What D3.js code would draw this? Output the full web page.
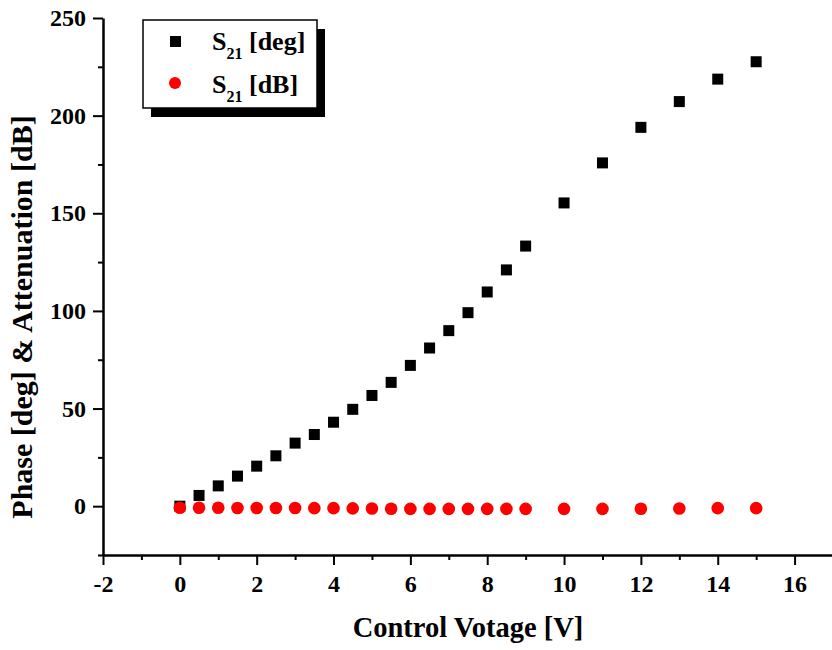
<!DOCTYPE html>
<html>
<head>
<meta charset="utf-8">
<script src="https://cdn.jsdelivr.net/npm/d3@7"></script>
<style>
  body { margin: 0; background: #fff; }
  svg { display: block; }
  svg text { font-family: "Liberation Serif", "Times New Roman", serif; font-weight: bold; fill: #000; }
</style>
</head>
<body>
<svg width="832" height="650"></svg>
<script>
const voltage = [0, 0.5, 1, 1.5, 2, 2.5, 3, 3.5, 4, 4.5, 5, 5.5, 6, 6.5, 7, 7.5, 8, 8.5, 9, 10, 11, 12, 13, 14, 15];
const phaseDeg = [0, 5.5, 10.4, 15.4, 20.5, 25.8, 32.3, 36.7, 43, 49.6, 56.7, 63.4, 72.1, 81, 89.9, 99.1, 109.7, 121, 133.2, 155.3, 175.8, 194, 207.2, 218.7, 227.6];
const attenDb = [-0.8, -0.8, -0.8, -0.9, -0.9, -0.9, -0.9, -1.0, -1.0, -1.1, -1.2, -1.3, -1.4, -1.4, -1.4, -1.4, -1.4, -1.4, -1.4, -1.4, -1.4, -1.3, -1.2, -1.0, -1.0];
const xMajor = [-2, 0, 2, 4, 6, 8, 10, 12, 14, 16];
const xMinor = [-1, 1, 3, 5, 7, 9, 11, 13, 15];
const yMajor = [0, 50, 100, 150, 200, 250];
const yMinor = [-25, 25, 75, 125, 175, 225];
const legendLabels = [["S", "21", " [deg]"], ["S", "21", " [dB]"]];

const svg = d3.select("svg");
const x = d3.scaleLinear().domain([-2, 17]).range([103, 833]);
const y = d3.scaleLinear().domain([-25, 250]).range([555, 18]);

// minor ticks first, no labels
svg.append("g")
  .attr("transform", "translate(0,555)")
  .call(d3.axisBottom(x).tickValues(xMinor).tickSize(5).tickSizeOuter(0).tickFormat(""))
  .call(g => g.select(".domain").remove());
svg.append("g")
  .attr("transform", "translate(103,0)")
  .call(d3.axisLeft(y).tickValues(yMinor).tickSize(5).tickSizeOuter(0).tickFormat(""))
  .call(g => g.select(".domain").remove());

svg.append("g")
  .attr("transform", "translate(0,555)")
  .call(d3.axisBottom(x).tickValues(xMajor).tickFormat(d => String(d)).tickSize(10).tickSizeOuter(0).tickPadding(10));
svg.append("g")
  .attr("transform", "translate(103,0)")
  .call(d3.axisLeft(y).tickValues(yMajor).tickFormat(d => String(d)).tickSize(10).tickSizeOuter(0).tickPadding(7));

svg.selectAll(".tick line").attr("stroke", "#000").attr("stroke-width", 2);
svg.selectAll(".domain").attr("stroke", "#000").attr("stroke-width", 2.5);
svg.selectAll(".tick text").style("font-size", "24px");

// titles
svg.append("text")
  .attr("x", 468).attr("y", 637)
  .attr("text-anchor", "middle")
  .style("font-size", "28.5px")
  .text("Control Votage [V]");
svg.append("text")
  .attr("transform", "translate(32,317) rotate(-90)")
  .attr("text-anchor", "middle")
  .style("font-size", "30px")
  .text("Phase [deg] & Attenuation [dB]");

// data
svg.append("g").selectAll("rect")
  .data(voltage)
  .join("rect")
  .attr("x", d => x(d) - 5.5)
  .attr("y", (d, i) => y(phaseDeg[i]) - 5.5)
  .attr("width", 11).attr("height", 11)
  .attr("fill", "#000");

svg.append("g").selectAll("circle")
  .data(voltage)
  .join("circle")
  .attr("cx", d => x(d))
  .attr("cy", (d, i) => y(attenDb[i]))
  .attr("r", 6.3)
  .attr("fill", "#ff0000");

// legend
const lg = svg.append("g");
lg.append("rect").attr("x", 151).attr("y", 29).attr("width", 174).attr("height", 88).attr("fill", "#000");
lg.append("rect").attr("x", 143).attr("y", 20).attr("width", 174).attr("height", 88)
  .attr("fill", "#fff").attr("stroke", "#000").attr("stroke-width", 1.5);
lg.append("rect").attr("x", 170).attr("y", 36).attr("width", 11).attr("height", 11).attr("fill", "#000");
lg.append("circle").attr("cx", 175).attr("cy", 83).attr("r", 6).attr("fill", "#ff0000");

legendLabels.forEach((parts, i) => {
  const t = lg.append("text").attr("x", 212).attr("y", 50 + i * 43).style("font-size", "26px");
  t.append("tspan").text(parts[0]);
  t.append("tspan").style("font-size", "16px").attr("dy", 9).text(parts[1]);
  t.append("tspan").attr("dy", -9).text(parts[2]);
});
</script>
</body>
</html>
